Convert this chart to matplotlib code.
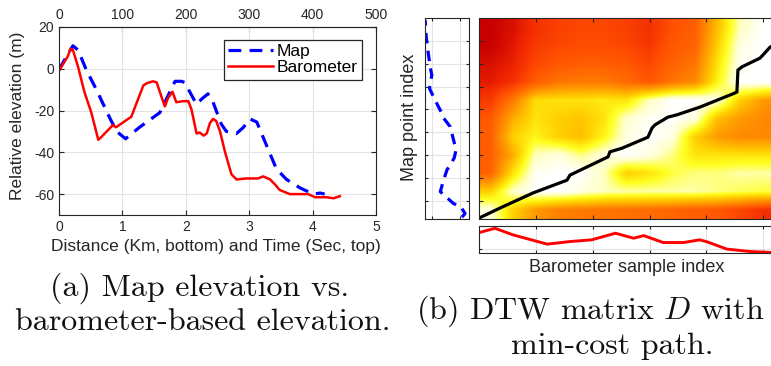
import numpy as np
import matplotlib
matplotlib.use('Agg')
import matplotlib.pyplot as plt
from matplotlib.colors import LinearSegmentedColormap

plt.rcParams['font.family'] = ['Liberation Sans', 'DejaVu Sans']
plt.rcParams['axes.unicode_minus'] = False
plt.rcParams['mathtext.fontset'] = 'cm'

# ---------------- Panel (a) data ----------------
baro_km = [0, 0.06, 0.14, 0.18, 0.22, 0.30, 0.40, 0.51, 0.62, 0.64, 0.85, 0.90, 1.09, 1.14,
           1.33, 1.38, 1.48, 1.54, 1.64, 1.67, 1.72, 1.79, 1.85, 1.96, 2.04, 2.09, 2.17, 2.22,
           2.28, 2.33, 2.38, 2.43, 2.48, 2.54, 2.62, 2.72, 2.80, 2.96, 3.14, 3.22, 3.33, 3.41,
           3.48, 3.64, 3.80, 3.93, 4.04, 4.22, 4.33, 4.43]
baro_elev = [-1, 2, 6, 9.5, 9, 1, -11, -21, -34, -33.5, -27, -28, -24, -23,
             -8, -7, -6, -6.5, -15.5, -18, -14, -11, -16, -15.5, -15.5, -19.5, -31, -30.5,
             -32, -31, -26, -24, -25, -30, -40, -50.5, -53, -52.5, -52.5, -51.5, -53, -55.5,
             -58, -60, -60, -60, -61.5, -61.5, -62, -61]
map_km = [0, 0.12, 0.22, 0.30, 0.43, 0.59, 0.80, 0.91, 1.05, 1.27, 1.59, 1.83, 1.93, 1.98,
          2.17, 2.25, 2.35, 2.43, 2.56, 2.64, 2.80, 2.91, 3.01, 3.12, 3.25, 3.43, 3.59, 3.80,
          4.01, 4.12, 4.19]
map_elev = [-0.5, 6, 11, 9, -0.5, -10, -23.5, -30, -33.5, -28, -21, -6, -6, -6.5,
            -17, -14.5, -12, -16, -26.5, -30, -31, -28, -24, -25.5, -35, -48, -53, -57,
            -60, -59.5, -60]
time_ticks = [0, 100, 200, 300, 400, 500]

# ---------------- Panel (b) data ----------------
map_idx_b = [1.4, 2.2, 3.7, 4.4, 7.0, 9.5, 11.7, 14.3, 16.1, 19.0, 21.2, 23.1, 24.2, 27.0,
             29.6, 32.5, 34.3, 36.9, 39.1, 40.9, 44.5]
map_elev_b = [4, 10.6, 1.5, -14.2, -42, -35, -28, -12.7, -8.5, -15.5, -21, -35, -39, -53,
              -65, -60, -63.5, -67, -70, -72, -74]
baro_idx_b = [0, 14, 30, 60, 80, 99, 120, 136, 145, 162, 180, 194, 200, 218, 238, 256, 300]
baro_elev_b = [-8.6, 4.9, -15.7, -44.4, -36.4, -31.1, -10.5, -25.9, -17.9, -39.4, -39.4,
               -31.1, -36.4, -59.8, -67.2, -70.2, -72]
path_x = [0, 18.5, 47.5, 77.4, 80, 95, 113.5, 115.2, 125.8, 148.6, 152.2, 154.8, 166.2, 174.1,
          194.4, 223.4, 226.9, 227.8, 231.3, 247.1, 249.8, 256, 300]
path_y = [1.2, 3.4, 6.7, 9.5, 10.6, 12.4, 14.6, 15.7, 16.5, 18.9, 20.9, 21.6, 23.3, 23.8,
          25.5, 28.4, 28.8, 33.6, 34.3, 36.2, 36.9, 38.6, 45]
# DTW matrix (coarse, top row = highest map index), normalised cost
dtw_rows = [
    [1.00, 0.95, 0.85, 0.80, 0.78, 0.78, 0.80, 0.85, 0.75, 0.70, 0.40, 0.10, 0.00, 0.00, 0.00],
    [1.00, 0.93, 0.82, 0.78, 0.76, 0.76, 0.78, 0.83, 0.72, 0.68, 0.35, 0.05, 0.00, 0.00, 0.00],
    [0.95, 0.90, 0.78, 0.72, 0.70, 0.70, 0.72, 0.78, 0.68, 0.62, 0.30, 0.02, 0.00, 0.00, 0.00],
    [0.92, 0.85, 0.70, 0.62, 0.60, 0.60, 0.65, 0.72, 0.62, 0.55, 0.25, 0.00, 0.00, 0.00, 0.00],
    [0.82, 0.60, 0.32, 0.30, 0.30, 0.28, 0.30, 0.10, 0.00, 0.00, 0.05, 0.35, 0.50, 0.55, 0.60],
    [0.72, 0.45, 0.30, 0.35, 0.38, 0.30, 0.08, 0.02, 0.00, 0.05, 0.40, 0.50, 0.55, 0.60, 0.60],
    [0.70, 0.35, 0.25, 0.35, 0.40, 0.25, 0.05, 0.00, 0.05, 0.35, 0.50, 0.55, 0.55, 0.55, 0.55],
    [0.70, 0.45, 0.10, 0.05, 0.15, 0.05, 0.00, 0.05, 0.15, 0.30, 0.30, 0.30, 0.30, 0.30, 0.30],
    [0.68, 0.30, 0.02, 0.00, 0.00, 0.10, 0.35, 0.30, 0.20, 0.15, 0.15, 0.12, 0.12, 0.12, 0.12],
    [0.35, 0.08, 0.00, 0.00, 0.05, 0.10, 0.12, 0.12, 0.12, 0.12, 0.15, 0.18, 0.20, 0.20, 0.20],
    [0.05, 0.35, 0.50, 0.58, 0.60, 0.62, 0.63, 0.65, 0.67, 0.70, 0.72, 0.78, 0.85, 0.88, 0.90],
]

W, H = 771, 366
fig = plt.figure(figsize=(W / 100, H / 100), dpi=100)
AX_C = '#262626'
GRID_C = '#e3e3e3'


def px_axes(x0, y0, x1, y1):
    return fig.add_axes([x0 / W, 1 - y1 / H, (x1 - x0) / W, (y1 - y0) / H])


def style(ax):
    for s in ax.spines.values():
        s.set_color(AX_C)
        s.set_linewidth(0.8)
    ax.tick_params(direction='in', length=3.5, width=0.8, colors=AX_C,
                   top=True, right=True, labelsize=10)


# ---------------- Panel (a) ----------------
ax = px_axes(59, 27, 376, 215)
style(ax)
ax.plot(map_km, map_elev, color='#0000ff', lw=2.3, dashes=(4.0, 2.6), label='Map')
ax.plot(baro_km, baro_elev, color='#ff0000', lw=1.8, label='Barometer')
ax.set_xlim(0, 5)
ax.set_ylim(-70, 20)
ax.set_xticks(range(6))
ax.set_yticks([-60, -40, -20, 0, 20])
ax.grid(True, color=GRID_C, lw=0.8)
ax.set_axisbelow(True)
ax.tick_params(top=False)
sec = ax.secondary_xaxis('top', functions=(lambda x: x * 100, lambda t: t / 100))
sec.set_xticks(time_ticks)
sec.tick_params(direction='in', length=3.5, width=0.8, colors=AX_C, labelsize=10)
sec.spines['top'].set_color(AX_C)
leg = ax.legend(loc='upper right', bbox_to_anchor=(0.956, 0.931), fontsize=12.5,
                frameon=True, fancybox=False, edgecolor=AX_C, framealpha=1,
                borderpad=0.25, labelspacing=0.05, handlelength=2.6, handletextpad=0.2,
                borderaxespad=0)
leg.get_frame().set_linewidth(0.9)
fig.text(18 / W, 1 - 116 / H, 'Relative elevation (m)', rotation=90, ha='center',
         va='center', fontsize=12.5, color=AX_C)
fig.text(216 / W, 1 - 246 / H, 'Distance (Km, bottom) and Time (Sec, top)', ha='center',
         va='center', fontsize=12.5, color=AX_C)

# ---------------- Panel (b) ----------------
cmap = LinearSegmentedColormap.from_list('dtw', [
    (0.0, '#ffffff'), (0.1, '#ffffc0'), (0.22, '#ffff20'), (0.35, '#ffd000'),
    (0.5, '#ff9a00'), (0.62, '#ff7400'), (0.75, '#ff5000'), (0.88, '#f22800'),
    (1.0, '#c80000')])

axH = px_axes(479, 18, 820, 219)
style(axH)
axH.imshow(np.array(dtw_rows), extent=(0, 300, 1, 45), origin='upper', aspect='auto',
           cmap=cmap, vmin=0, vmax=1, interpolation='bilinear')
axH.plot(path_x, path_y, color='black', lw=2.3, solid_joinstyle='miter')
axH.set_xlim(0, 300)
axH.set_ylim(1, 45)
axH.set_xticks(range(50, 300, 50))
axH.set_yticks(range(5, 45, 5))
axH.tick_params(labelbottom=False, labelleft=False, length=3)

axL = px_axes(425, 18, 469, 219)
style(axL)
axL.plot(map_elev_b, map_idx_b, color='#0000ff', lw=2.3, dashes=(3.3, 2.3))
axL.set_xlim(-74.5, 19)
axL.set_ylim(1, 45)
axL.set_xticks([-60, 0])
axL.set_yticks(range(5, 45, 5))
axL.grid(True, color=GRID_C, lw=0.8)
axL.set_axisbelow(True)
axL.tick_params(labelbottom=False, labelleft=False, length=2.5)

axB = px_axes(479, 226, 820, 253)
style(axB)
axB.plot(baro_idx_b, baro_elev_b, color='#ff0000', lw=2.1)
axB.set_xlim(0, 300)
axB.set_ylim(-72, 12)
axB.set_xticks(range(50, 300, 50))
axB.set_yticks([-60])
axB.grid(True, color=GRID_C, lw=0.8)
axB.set_axisbelow(True)
axB.tick_params(labelbottom=False, labelleft=False, length=2.5)

fig.text(410 / W, 1 - 117 / H, 'Map point index', rotation=90, ha='center', va='center',
         fontsize=13, color=AX_C)
fig.text(627 / W, 1 - 267 / H, 'Barometer sample index', ha='center', va='center',
         fontsize=13, color=AX_C)

# ---------------- Captions ----------------
cap = dict(ha='center', va='center', fontsize=23, family='cmr10', color='#111111')
fig.text(200 / W, 1 - 288 / H, '(a) Map elevation vs.', **cap)
fig.text(203 / W, 1 - 322 / H, 'barometer-based elevation.', **cap)
fig.text(590 / W, 1 - 311 / H, '(b) DTW matrix $D$ with', **cap)
fig.text(612 / W, 1 - 346 / H, 'min-cost path.', **cap)

fig.savefig('out.png', dpi=100)
